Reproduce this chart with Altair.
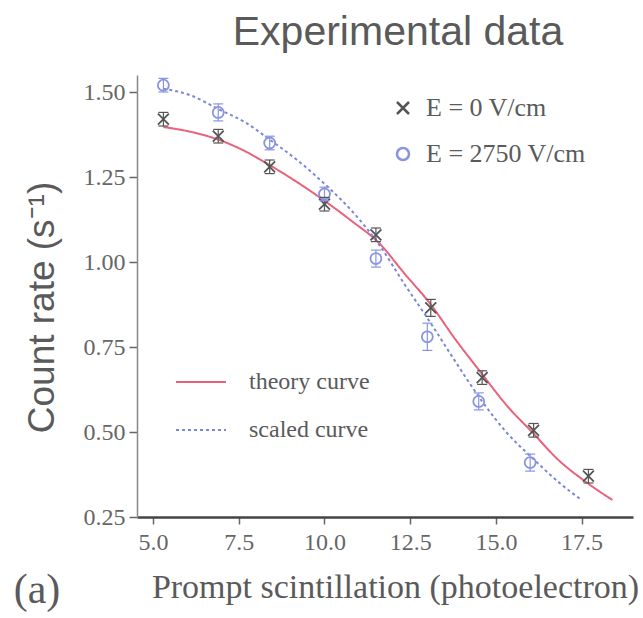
import altair as alt
import pandas as pd

# ---- data ----
x_e0 = [5.3, 6.9, 8.4, 10.0, 11.5, 13.1, 14.6, 16.1, 17.7]
y_e0 = [1.42, 1.37, 1.28, 1.17, 1.08, 0.865, 0.66, 0.505, 0.37]
err_e0 = [0.02, 0.02, 0.02, 0.02, 0.02, 0.025, 0.02, 0.02, 0.02]

x_e2750 = [5.3, 6.9, 8.4, 10.0, 11.5, 13.0, 14.5, 16.0]
y_e2750 = [1.52, 1.44, 1.35, 1.20, 1.01, 0.78, 0.59, 0.41]
err_e2750 = [0.02, 0.025, 0.02, 0.02, 0.025, 0.04, 0.025, 0.025]

theory_x = [5.3, 6.0, 6.9, 7.7, 8.4, 9.2, 10.0, 10.8, 11.6, 12.3, 13.1, 13.8, 14.6, 15.3, 16.1, 16.8, 17.6, 18.4]
theory_y = [1.397, 1.385, 1.36, 1.325, 1.285, 1.235, 1.18, 1.12, 1.055, 0.97, 0.875, 0.775, 0.67, 0.58, 0.495, 0.42, 0.355, 0.30]

scaled_x = [5.3, 6.1, 6.9, 7.7, 8.4, 9.2, 10.0, 10.8, 11.6, 12.3, 13.1, 13.8, 14.6, 15.3, 16.1, 16.8, 17.5]
scaled_y = [1.51, 1.49, 1.45, 1.41, 1.36, 1.30, 1.23, 1.15, 1.05, 0.94, 0.82, 0.71, 0.59, 0.50, 0.42, 0.355, 0.30]

x_ticks = [5.0, 7.5, 10.0, 12.5, 15.0, 17.5]
y_ticks = [0.25, 0.50, 0.75, 1.00, 1.25, 1.50]

series_names = ["E = 0 V/cm", "E = 2750 V/cm"]
curve_names = ["theory curve", "scaled curve"]

# ---- tables ----
pts = pd.concat([
    pd.DataFrame({"x": x_e0, "y": y_e0, "err": err_e0, "series": series_names[0]}),
    pd.DataFrame({"x": x_e2750, "y": y_e2750, "err": err_e2750, "series": series_names[1]}),
])
pts["lo"] = pts["y"] - pts["err"]
pts["hi"] = pts["y"] + pts["err"]

curves = pd.concat([
    pd.DataFrame({"x": theory_x, "y": theory_y, "curve": curve_names[0], "order": range(len(theory_x))}),
    pd.DataFrame({"x": scaled_x, "y": scaled_y, "curve": curve_names[1], "order": range(len(scaled_x))}),
])

SERIF = "Liberation Serif"
SANS = "Liberation Sans"
RED = "#e8627c"
BLUE_LINE = "#7b86d9"
BLUE_PT = "#8a94e0"
GRAY_PT = "#555555"
TXT = "#5a5a5a"

xs = alt.Scale(domain=[4.53, 19.0], nice=False, zero=False)
ys = alt.Scale(domain=[0.25, 1.55], nice=False, zero=False)

xaxis = alt.Axis(values=x_ticks, format=".1f", grid=False, labelFlush=False,
                 labelFont=SERIF, labelFontSize=24, labelColor="#666", labelPadding=6,
                 tickColor="#666", tickSize=7, tickWidth=1.5,
                 domainColor="#444", domainWidth=2.5,
                 title="Prompt scintillation (photoelectron)", titleFont=SERIF,
                 titleFontSize=34, titleFontWeight="normal", titleColor=TXT,
                 titleX=258, titleY=53, titleBaseline="top", titleAlign="center")
yaxis = alt.Axis(values=y_ticks, format=".2f", grid=False,
                 labelFont=SERIF, labelFontSize=24, labelColor="#666", labelPadding=4,
                 tickColor="#666", tickSize=8, tickWidth=1.5,
                 domainColor="#888", domainWidth=1.5,
                 title="Count rate (s⁻¹)", titleFont=SANS, titleFontSize=37,
                 titleFontWeight="normal", titleColor=TXT, titleAngle=270,
                 titleX=-95, titleY=232, titleAlign="center", titleBaseline="middle")

X_PATH = "M-1,-1L1,1M1,-1L-1,1"

leg1 = alt.Legend(title=None, orient="none", legendX=253, legendY=20, padding=0,
                  labelFont=SERIF, labelFontSize=26, labelColor=TXT,
                  symbolSize=144, symbolStrokeWidth=2.5,
                  rowPadding=20, labelOffset=10)
leg2 = alt.Legend(title=None, orient="none", legendX=38, legendY=281, padding=0,
                  labelFont=SERIF, labelFontSize=24, labelColor=TXT,
                  symbolType="stroke", symbolSize=2500, symbolStrokeWidth=2,
                  rowPadding=10, labelOffset=22)

line_color = alt.Color("curve:N", scale=alt.Scale(domain=curve_names, range=[RED, BLUE_LINE]), legend=leg2)
line_dash = alt.StrokeDash("curve:N", scale=alt.Scale(domain=curve_names, range=[[1, 0], [3, 3]]), legend=leg2)

lines = alt.Chart(curves).mark_line(strokeWidth=2, interpolate="monotone").encode(
    x=alt.X("x:Q", scale=xs, axis=xaxis),
    y=alt.Y("y:Q", scale=ys, axis=yaxis),
    color=line_color,
    strokeDash=line_dash,
    order="order:Q",
)

pt_color = alt.Color("series:N", scale=alt.Scale(domain=series_names, range=[GRAY_PT, BLUE_PT]), legend=leg1)
pt_shape = alt.Shape("series:N", scale=alt.Scale(domain=series_names, range=[X_PATH, "circle"]), legend=leg1)

rules = alt.Chart(pts).mark_rule(strokeWidth=1.2).encode(
    x=alt.X("x:Q", scale=xs),
    y=alt.Y("lo:Q", scale=ys),
    y2="hi:Q",
    color=pt_color,
)
cap_lo = alt.Chart(pts).mark_rule(strokeWidth=1.2, xOffset=-5, x2Offset=5).encode(
    x=alt.X("x:Q", scale=xs),
    x2="x:Q",
    y=alt.Y("lo:Q", scale=ys),
    color=pt_color,
)
cap_hi = alt.Chart(pts).mark_rule(strokeWidth=1.2, xOffset=-5, x2Offset=5).encode(
    x=alt.X("x:Q", scale=xs),
    x2="x:Q",
    y=alt.Y("hi:Q", scale=ys),
    color=pt_color,
)
points = alt.Chart(pts).mark_point(filled=False, strokeWidth=1.8, opacity=1).encode(
    x=alt.X("x:Q", scale=xs),
    y=alt.Y("y:Q", scale=ys),
    color=pt_color,
    shape=pt_shape,
    size=alt.value(120),
)

label_a = alt.Chart(pd.DataFrame({"t": ["(a)"]})).mark_text(
    font=SERIF, fontSize=42, color=TXT, align="center", baseline="alphabetic"
).encode(text="t:N", x=alt.value(-100), y=alt.value(528))

pt_layer = alt.layer(points, rules, cap_lo, cap_hi)

chart = alt.layer(lines, pt_layer, label_a).resolve_scale(
    color="independent", shape="independent", strokeDash="independent"
).properties(
    width=496, height=442,
    autosize="none",
    padding={"left": 137, "top": 75, "right": 10, "bottom": 101},
    title=alt.TitleParams("Experimental data", font=SANS, fontSize=41, fontWeight="normal",
                          color=TXT, anchor="middle", dx=13, offset=-11, baseline="alphabetic"),
    background="white",
).configure_view(stroke=None)

chart.save("out.html", embed_options={"renderer": "svg", "actions": False})
